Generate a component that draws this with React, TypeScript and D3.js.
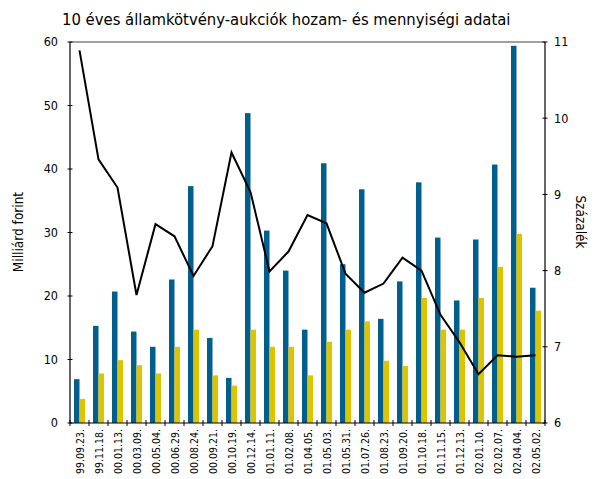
import React from "react";
import * as d3 from "d3";

const categories = [
  "99.09.23.", "99.11.18.", "00.01.13.", "00.03.09.", "00.05.04.", "00.06.29.",
  "00.08.24.", "00.09.21.", "00.10.19.", "00.12.14.", "01.01.11.", "01.02.08.",
  "01.04.05.", "01.05.03.", "01.05.31.", "01.07.26.", "01.08.23.", "01.09.20.",
  "01.10.18.", "01.11.15.", "01.12.13.", "02.01.10.", "02.02.07.", "02.04.04.",
  "02.05.02.",
];
const offered = [
  6.9, 15.3, 20.7, 14.4, 12.0, 22.6, 37.3, 13.4, 7.1, 48.8, 30.3, 24.0,
  14.7, 40.9, 25.0, 36.8, 16.4, 22.3, 37.9, 29.2, 19.3, 28.9, 40.7, 59.4, 21.3,
];
const accepted = [
  3.8, 7.8, 9.9, 9.1, 7.8, 12.0, 14.7, 7.5, 5.9, 14.7, 12.0, 12.0,
  7.5, 12.8, 14.7, 16.0, 9.8, 9.0, 19.7, 14.7, 14.7, 19.7, 24.6, 29.8, 17.7,
];
const yields = [
  10.89, 9.46, 9.09, 7.68, 8.61, 8.45, 7.93, 8.32, 9.55, 9.03, 7.99, 8.25,
  8.73, 8.62, 7.96, 7.71, 7.83, 8.17, 8.0, 7.42, 7.06, 6.64, 6.89, 6.87, 6.89,
];
const leftTicks = [0, 10, 20, 30, 40, 50, 60];
const rightTicks = [6, 7, 8, 9, 10, 11];

const title = "10 éves államkötvény-aukciók hozam- és mennyiségi adatai";
const leftTitle = "Milliárd forint";
const rightTitle = "Százalék";

const BLUE = "#005f8c";
const YELLOW = "#dcc500";
const FONT = "'Liberation Sans Narrow', 'DejaVu Sans Condensed', 'Roboto Condensed', 'Arial Narrow', sans-serif";

export default function App() {
  const W = 601, H = 479;
  const left = 70, right = 545, top = 42, bottom = 423;
  const x = d3.scaleBand<string>().domain(categories).range([left, right]);
  const yL = d3.scaleLinear().domain([0, 60]).range([bottom, top]);
  const yR = d3.scaleLinear().domain([6, 11]).range([bottom, top]);
  const bw = 5.5;
  const center = (c: string) => (x(c) as number) + x.bandwidth() / 2;
  const line = d3
    .line<number>()
    .x((_, i) => center(categories[i]))
    .y((d) => yR(d));

  return (
    <svg
      width={W}
      height={H}
      style={{ position: "absolute", left: 0, top: 0, background: "#fff" }}
      fontFamily={FONT}
    >
      <text x={62} y={25} fontSize={16.5} fill="#000">{title}</text>

      {/* top border */}
      <line x1={left} x2={right} y1={top} y2={top} stroke="#808080" strokeWidth={1.5} />

      {/* bars */}
      {categories.map((c, i) => (
        <g key={c}>
          <rect x={center(c) - bw} y={yL(offered[i])} width={bw} height={bottom - yL(offered[i])} fill={BLUE} />
          <rect x={center(c)} y={yL(accepted[i])} width={bw} height={bottom - yL(accepted[i])} fill={YELLOW} />
        </g>
      ))}

      {/* line */}
      <path d={line(yields) || ""} fill="none" stroke="#000" strokeWidth={2} strokeLinejoin="miter" />

      {/* left axis */}
      <line x1={left} x2={left} y1={top} y2={bottom} stroke="#000" strokeWidth={1.2} />
      {leftTicks.map((t) => (
        <g key={"l" + t}>
          <line x1={left - 2.5} x2={left + 2.5} y1={yL(t)} y2={yL(t)} stroke="#000" strokeWidth={1} />
          <text x={58} y={yL(t)} dy="0.35em" textAnchor="end" fontSize={12.5}>{t}</text>
        </g>
      ))}

      {/* right axis */}
      <line x1={right} x2={right} y1={top} y2={bottom} stroke="#000" strokeWidth={1.2} />
      {rightTicks.map((t) => (
        <g key={"r" + t}>
          <line x1={right - 2.5} x2={right + 2.5} y1={yR(t)} y2={yR(t)} stroke="#000" strokeWidth={1} />
          <text x={554} y={yR(t)} dy="0.35em" textAnchor="start" fontSize={12.5}>{t}</text>
        </g>
      ))}

      {/* bottom axis */}
      <line x1={left} x2={right} y1={bottom} y2={bottom} stroke="#000" strokeWidth={1.2} />
      {categories.concat(["end"]).map((c, i) => {
        const xx = left + i * x.step();
        return <line key={"b" + i} x1={xx} x2={xx} y1={bottom - 3} y2={bottom + 3} stroke="#000" strokeWidth={1} />;
      })}
      {categories.map((c) => (
        <text
          key={"t" + c}
          transform={`translate(${center(c) + 4.5},${429}) rotate(-90)`}
          textAnchor="end"
          fontSize={10.5}
        >
          {c}
        </text>
      ))}

      {/* axis titles */}
      <text transform={`translate(23,232) rotate(-90)`} textAnchor="middle" fontSize={13.5}>{leftTitle}</text>
      <text transform={`translate(576,222) rotate(90)`} textAnchor="middle" fontSize={13.5}>{rightTitle}</text>
    </svg>
  );
}
